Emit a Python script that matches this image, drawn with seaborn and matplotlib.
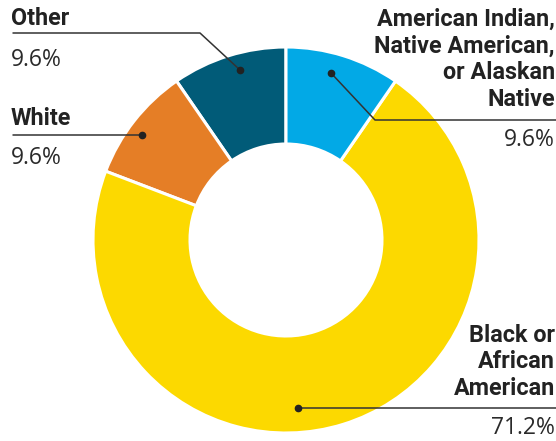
import matplotlib
matplotlib.use("Agg")
import matplotlib.pyplot as plt
import seaborn as sns
import numpy as np

categories = ["Other", "White", "Black or\nAfrican\nAmerican", "American Indian,\nNative American,\nor Alaskan\nNative"]
values = [9.6, 9.6, 71.2, 9.6]
value_labels = ["9.6%", "9.6%", "71.2%", "9.6%"]
colors = ["#015b78", "#e57e26", "#fcd900", "#02a9e6"]

sns.set_theme(style="white")
plt.rcParams["font.family"] = ["Roboto", "DejaVu Sans"]

W, H = 556, 441
fig = plt.figure(figsize=(W / 100, H / 100), dpi=100)
ax = fig.add_axes([0, 0, 1, 1])

cx, cy = 286, H - 240
R = 193
ax.pie(values, colors=colors, startangle=90, counterclock=True, center=(cx, cy), radius=R,
       wedgeprops=dict(width=97, edgecolor="white", linewidth=2.2), frame=True)
ax.set_xlim(0, W)
ax.set_ylim(0, H)
ax.set_aspect("equal")
ax.axis("off")

def py(y):
    return H - y

txt = "#222222"
line_c = "#333333"
bold = dict(fontsize=16.8, fontweight="bold", color=txt, va="baseline")
norm = dict(fontsize=16.5, fontweight="normal", color="#2a2a2a", va="baseline",
            family=["Open Sans", "DejaVu Sans"])

# Other
ax.text(11, py(25), categories[0], ha="left", **bold)
ax.plot([13, 200, 240], [py(33), py(33), py(70)], color=line_c, lw=1.1)
ax.plot(240, py(70), "o", color=txt, ms=4.5)
ax.text(11, py(66), value_labels[0], ha="left", **norm)

# White
ax.text(11, py(125), categories[1], ha="left", **bold)
ax.plot([13, 142], [py(135), py(135)], color=line_c, lw=1.1)
ax.plot(142, py(135), "o", color=txt, ms=4.5)
ax.text(11, py(164), value_labels[1], ha="left", **norm)

# American Indian
for i, s in enumerate(categories[3].split("\n")):
    ax.text(555, py(26 + i * 26.5), s, ha="right", **bold)
ax.plot([331, 375, 556], [py(73), py(120), py(120)], color=line_c, lw=1.1)
ax.plot(331, py(73), "o", color=txt, ms=4.5)
ax.text(555, py(146), value_labels[3], ha="right", **norm)

# Black
for i, s in enumerate(categories[2].split("\n")):
    ax.text(555, py(342 + i * 26.5), s, ha="right", **bold)
ax.plot([298, 556], [py(408), py(408)], color=line_c, lw=1.1)
ax.plot(298, py(408), "o", color=txt, ms=4.5)
ax.text(555, py(434), value_labels[2], ha="right", **norm)

fig.savefig("out.png", dpi=100)
